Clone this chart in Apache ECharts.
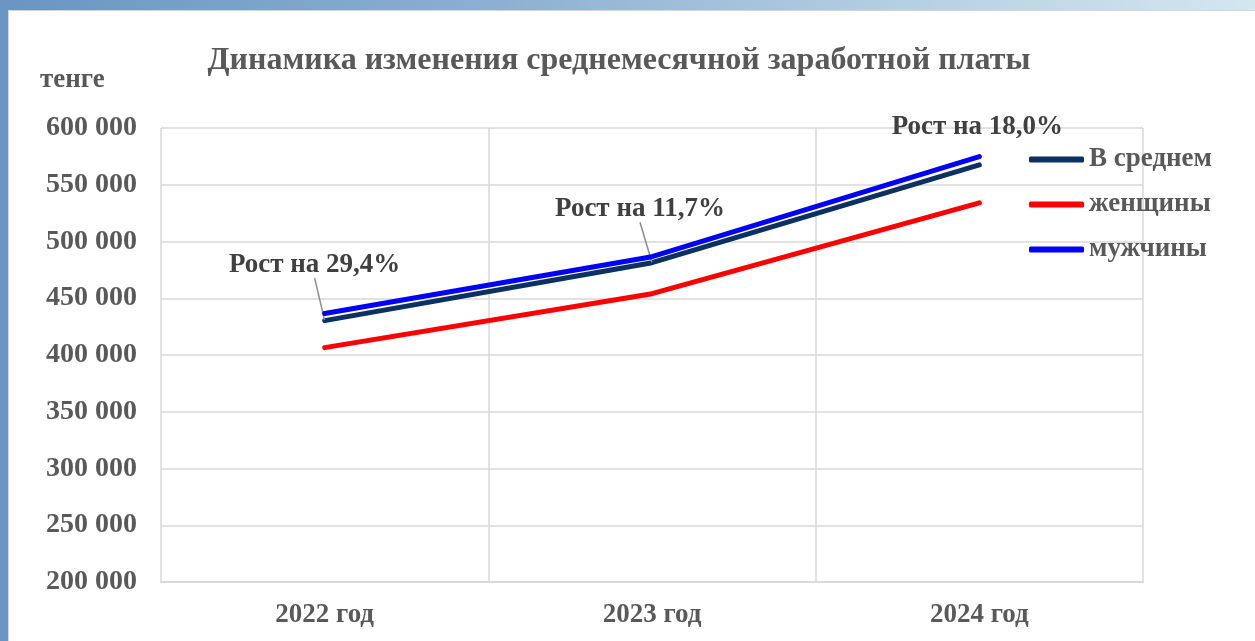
<!DOCTYPE html>
<html>
<head>
<meta charset="utf-8">
<script src="https://cdn.jsdelivr.net/npm/echarts@6/dist/echarts.min.js"></script>
<style>
  html, body { margin: 0; padding: 0; }
  body {
    width: 1255px; height: 641px; overflow: hidden; position: relative;
    background: linear-gradient(to right, #6a95c2 0%, #8db0d2 40%, #b9d2e4 75%, #d4e6f0 100%);
  }
  #chart-container {
    position: absolute; left: 8px; top: 10px; width: 1247px; height: 631px;
    background: #ffffff; border-top: 1px solid #d6d6d6; border-left: 1px solid #d6d6d6;
    box-sizing: border-box;
  }
</style>
</head>
<body>
<div id="chart-container"></div>
<script>
var years = ["2022 год", "2023 год", "2024 год"];
var avgData = [430300, 481300, 567500];
var womenData = [406500, 454000, 534000];
var menData = [436500, 486600, 574800];
var avgGrowth = ["29,4", "11,7", "18,0"];
var labelShift = [[-10, -37], [-12, -35], [-2, -19]];
var showLeader = [true, true, false];

var font = "'Liberation Serif', 'Times New Roman', serif";
var gray = "#595959";

var dom = document.getElementById("chart-container");
var myChart = echarts.init(dom, null, {
  renderer: "canvas",
  useDirtyRect: false
});

function fmt(v) {
  return String(v).replace(/\B(?=(\d{3})+(?!\d))/g, " ");
}

var option = {
  animation: false,
  title: [
    {
      text: "Динамика изменения среднемесячной заработной платы",
      left: 605,
      textAlign: "center",
      top: 29,
      textStyle: { fontFamily: font, fontSize: 32, fontWeight: "bold", color: gray }
    },
    {
      text: "тенге",
      left: 26,
      top: 51,
      textStyle: { fontFamily: font, fontSize: 27, fontWeight: "bold", color: gray }
    }
  ],
  legend: {
    orient: "vertical",
    left: 1015,
    top: 130,
    icon: "roundRect",
    itemWidth: 55,
    itemHeight: 6,
    itemGap: 18,
    textStyle: { fontFamily: font, fontSize: 27, fontWeight: "bold", color: gray },
    data: ["В среднем", "женщины", "мужчины"]
  },
  grid: {
    left: 152,
    right: 112,
    top: 117,
    bottom: 59
  },
  xAxis: {
    type: "category",
    boundaryGap: true,
    data: years,
    axisLine: { lineStyle: { color: "#d9d9d9", width: 2 } },
    axisTick: { show: false },
    splitLine: { show: true, lineStyle: { color: "#d9d9d9", width: 1.5 } },
    axisLabel: {
      margin: 20,
      fontFamily: font, fontSize: 27, fontWeight: "bold", color: gray
    }
  },
  yAxis: {
    type: "value",
    min: 200000,
    max: 600000,
    interval: 50000,
    axisLine: { show: false },
    axisTick: { show: false },
    splitLine: { lineStyle: { color: "#d9d9d9", width: 1.5 } },
    axisLabel: {
      margin: 24,
      fontFamily: font, fontSize: 28, fontWeight: "bold", color: gray,
      formatter: fmt
    }
  },
  series: [
    {
      name: "В среднем",
      type: "line",
      data: avgData.map(function (v, i) {
        return { value: v, labelLine: { show: showLeader[i] } };
      }),
      color: "#0b3163",
      symbol: "circle",
      symbolSize: 1,
      lineStyle: { width: 5, cap: "round" },
      label: {
        show: true,
        position: "top",
        fontFamily: font, fontSize: 27, fontWeight: "bold", color: "#404040",
        formatter: function (p) { return "Рост на " + avgGrowth[p.dataIndex] + "%"; }
      },
      labelLine: { show: true, lineStyle: { color: "#8c8c8c", width: 1.5 } },
      labelLayout: function (p) {
        var s = labelShift[p.dataIndex];
        return { dx: s[0], dy: s[1] };
      },
      z: 2
    },
    {
      name: "женщины",
      type: "line",
      data: womenData,
      color: "#ff0000",
      symbol: "none",
      lineStyle: { width: 5, cap: "round" },
      z: 2
    },
    {
      name: "мужчины",
      type: "line",
      data: menData,
      color: "#0000ff",
      symbol: "none",
      lineStyle: { width: 5, cap: "round" },
      z: 3
    }
  ]
};

myChart.setOption(option);
window.addEventListener("resize", myChart.resize);
</script>
</body>
</html>
